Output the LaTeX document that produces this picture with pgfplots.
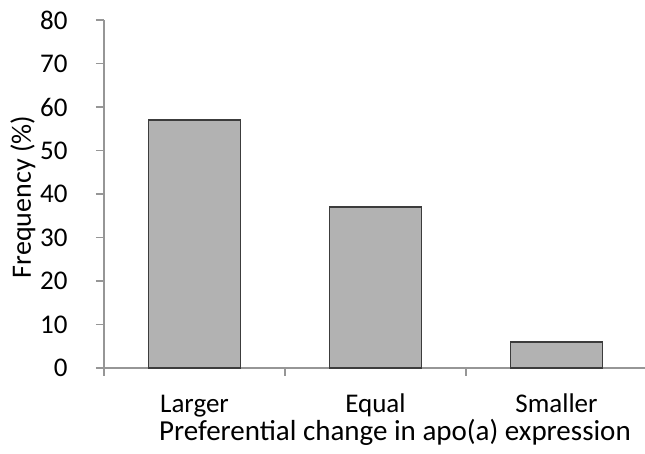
\documentclass[border=0pt]{standalone}
\usepackage{fontspec}
\setmainfont{Carlito}
\usepackage{pgfplots}
\pgfplotsset{compat=1.18}
\begin{document}
\begin{tikzpicture}
  \useasboundingbox (-52pt,-43pt) rectangle (270.5pt,184pt);
  \definecolor{axisgray}{RGB}{150,150,150}
  \definecolor{barfill}{RGB}{178,178,178}
  \definecolor{baredge}{RGB}{60,60,60}
\begin{axis}[
  scale only axis,
  width=271.5pt, height=174pt,
  ymin=0, ymax=80,
  ytick={0,10,...,80},
  xmin=-0.5, xmax=2.5,
  xtick={0,1,2},
  xticklabels={Larger, Equal, Smaller},
  minor xtick={-0.5,0.5,1.5,2.5},
  major x tick style={draw=none},
  axis lines*=left,
  axis line style={axisgray, line width=0.8pt},
  tick style={axisgray, line width=0.8pt},
  tick align=outside,
  major tick length=4pt,
  minor tick length=4pt,
  every axis y label/.style={at={(axis description cs:0,0.5)}, rotate=90, anchor=base,
    yshift=36.5pt, xshift=-1.5pt, font=\fontsize{14}{17}\selectfont},
  every axis x label/.style={at={(axis description cs:0.5,0)}, anchor=base,
    yshift=-36.5pt, xshift=9.75pt, font=\fontsize{14.5}{17}\selectfont},
  ylabel={Frequency (\%)},
  xlabel={Preferential change in apo(a) expression},
  xticklabel style={anchor=base, inner sep=0pt, yshift=-18.5pt, font=\fontsize{13.5}{16}\selectfont},
  yticklabel style={anchor=east, inner sep=0pt, xshift=-14pt, font=\fontsize{13.5}{16}\selectfont},
  /pgf/number format/assume math mode=true,
  ybar, bar width=0.51,
  bar shift=0pt,
  clip=false,
]
\addplot[fill=barfill, draw=baredge, line width=0.8pt] coordinates {
  (0,57) (1,37) (2,6)
};
\end{axis}
\end{tikzpicture}
\end{document}
